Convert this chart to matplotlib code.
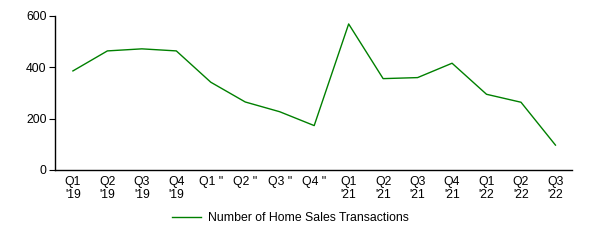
import matplotlib
matplotlib.use("Agg")
import matplotlib.pyplot as plt

quarters = ["Q1\n'19", "Q2\n'19", "Q3\n'19", "Q4\n'19",
            'Q1 "', 'Q2 "', 'Q3 "', 'Q4 "',
            "Q1\n'21", "Q2\n'21", "Q3\n'21", "Q4\n'21",
            "Q1\n'22", "Q2\n'22", "Q3\n'22"]
transactions = [386, 464, 472, 464, 342, 265, 227, 173,
                569, 356, 360, 416, 295, 264, 97]

plt.rcParams['font.family'] = ['Liberation Sans', 'DejaVu Sans']

fig = plt.figure(figsize=(5.9, 2.4), dpi=100)
ax = fig.add_axes([55/590, 1-170/240, (572-55)/590, (170-16)/240])

x = list(range(len(quarters)))
line, = ax.plot(x, transactions, color='green', linewidth=1,
                label='Number of Home Sales Transactions')

ax.set_xlim(-0.52, 14.48)
ax.set_ylim(0, 600)
ax.set_yticks([0, 200, 400, 600])
ax.set_xticks(x)
ax.set_xticklabels(quarters, fontsize=8.8, va='top', linespacing=1.2)
ax.tick_params(axis='x', length=0, pad=4)
ax.tick_params(axis='y', labelsize=8.8, length=4, width=0.8, pad=2)
for s in ['top', 'right']:
    ax.spines[s].set_visible(False)
for s in ['left', 'bottom']:
    ax.spines[s].set_linewidth(1)

fig.legend(handles=[line], loc='center', bbox_to_anchor=(0.492, 1-218/240),
           frameon=False, fontsize=8.8, handlelength=2.4, handletextpad=0.5)
fig.savefig('out.png', dpi=100)
